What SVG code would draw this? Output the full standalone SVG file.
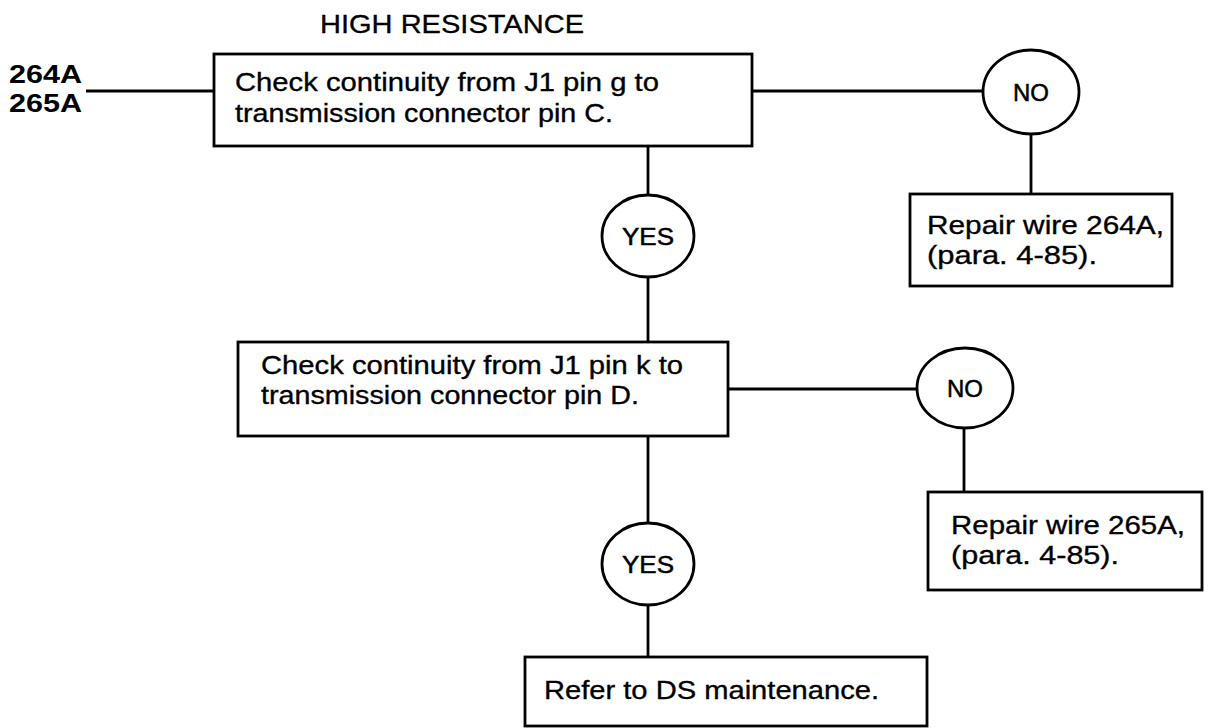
<svg xmlns="http://www.w3.org/2000/svg" width="1215" height="728" viewBox="0 0 1215 728">
<style>
.bx{fill:#fff;stroke:#000;stroke-width:2.8}
.el{fill:#fff;stroke:#000;stroke-width:2.8}
.ln{stroke:#000;stroke-width:2.8;fill:none}
.t{font-family:"Liberation Sans",Arial,sans-serif;font-size:26px;fill:#000;stroke:#000;stroke-width:0.35}
.lb{font-family:"Liberation Sans",Arial,sans-serif;font-size:24px;fill:#000;stroke:#000;stroke-width:0.5;text-anchor:middle}
.hd{font-family:"Liberation Sans",Arial,sans-serif;font-size:25px;fill:#000;stroke:#000;stroke-width:0.3}
.wb{font-family:"Liberation Sans",Arial,sans-serif;font-size:25px;font-weight:bold;fill:#000}
</style>
<rect width="1215" height="728" fill="#fff"/>
<text class="hd" x="320" y="33" textLength="264" lengthAdjust="spacingAndGlyphs">HIGH RESISTANCE</text>
<text class="wb" x="9" y="83" textLength="73" lengthAdjust="spacingAndGlyphs">264A</text>
<text class="wb" x="9" y="112" textLength="73" lengthAdjust="spacingAndGlyphs">265A</text>
<g id="connectors">
<path class="ln" d="M86 91 H214"/>
<path class="ln" d="M752 91 H983"/>
<path class="ln" d="M1031 134 V194"/>
<path class="ln" d="M648 146 V195"/>
<path class="ln" d="M648 277 V342"/>
<path class="ln" d="M728 389 H917"/>
<path class="ln" d="M964 428 V492"/>
<path class="ln" d="M648 436 V523"/>
<path class="ln" d="M648 605 V657"/>
</g>
<g id="check1">
<rect class="bx" x="214" y="54" width="538" height="92"/>
<text class="t" x="235" y="91" textLength="424" lengthAdjust="spacingAndGlyphs">Check continuity from J1 pin g to</text>
<text class="t" x="235" y="122" textLength="378" lengthAdjust="spacingAndGlyphs">transmission connector pin C.</text>
</g>
<g id="no1">
<ellipse class="el" cx="1031" cy="92" rx="48" ry="42"/>
<text class="lb" x="1031" y="101" textLength="36" lengthAdjust="spacingAndGlyphs">NO</text>
</g>
<g id="repair1">
<rect class="bx" x="910" y="194" width="262" height="92"/>
<text class="t" x="927" y="234" textLength="237" lengthAdjust="spacingAndGlyphs">Repair wire 264A,</text>
<text class="t" x="927" y="264" textLength="170" lengthAdjust="spacingAndGlyphs">(para. 4-85).</text>
</g>
<g id="yes1">
<ellipse class="el" cx="648" cy="236" rx="46" ry="41"/>
<text class="lb" x="648" y="245" textLength="52" lengthAdjust="spacingAndGlyphs">YES</text>
</g>
<g id="check2">
<rect class="bx" x="238" y="342" width="490" height="94"/>
<text class="t" x="261" y="374" textLength="422" lengthAdjust="spacingAndGlyphs">Check continuity from J1 pin k to</text>
<text class="t" x="261" y="404" textLength="378" lengthAdjust="spacingAndGlyphs">transmission connector pin D.</text>
</g>
<g id="no2">
<ellipse class="el" cx="965" cy="388" rx="48" ry="40"/>
<text class="lb" x="965" y="397" textLength="36" lengthAdjust="spacingAndGlyphs">NO</text>
</g>
<g id="repair2">
<rect class="bx" x="928" y="492" width="274" height="98"/>
<text class="t" x="951" y="534" textLength="234" lengthAdjust="spacingAndGlyphs">Repair wire 265A,</text>
<text class="t" x="951" y="564" textLength="168" lengthAdjust="spacingAndGlyphs">(para. 4-85).</text>
</g>
<g id="yes2">
<ellipse class="el" cx="648" cy="564" rx="46" ry="41"/>
<text class="lb" x="648" y="573" textLength="52" lengthAdjust="spacingAndGlyphs">YES</text>
</g>
<g id="final">
<rect class="bx" x="525" y="657" width="402" height="69"/>
<text class="t" x="544" y="699" textLength="335" lengthAdjust="spacingAndGlyphs">Refer to DS maintenance.</text>
</g>
</svg>
